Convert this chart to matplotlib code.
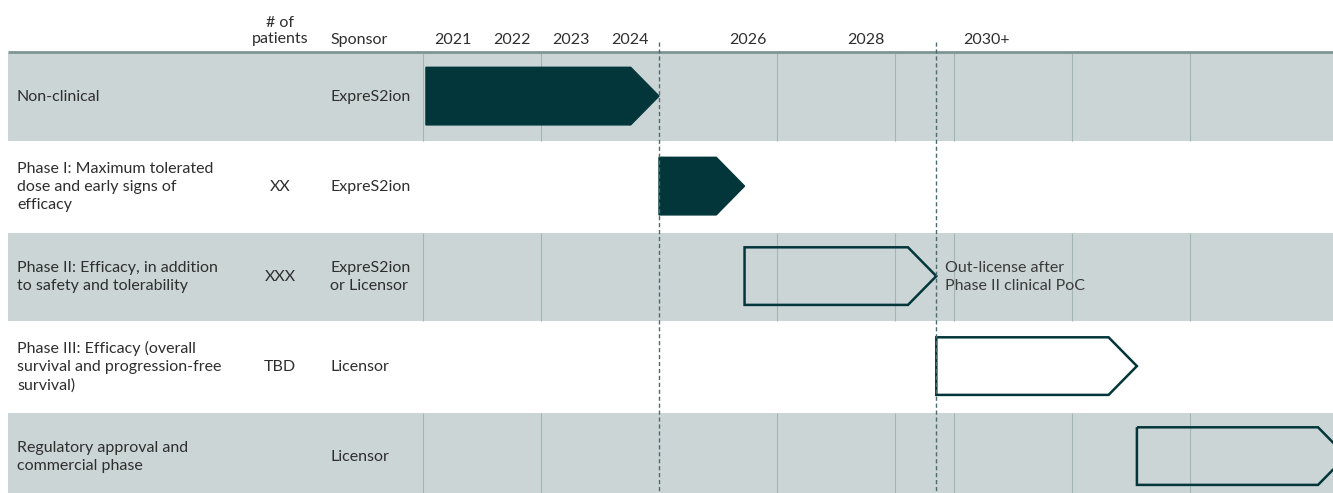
import matplotlib
matplotlib.use("Agg")
import numpy as np
from matplotlib import pyplot as plt
from matplotlib.patches import Polygon


# Fases do programa (uma linha por fase)
fases = [
    "Non-clinical",
    "Phase I: Maximum tolerated\ndose and early signs of\nefficacy",
    "Phase II: Efficacy, in addition\nto safety and tolerability",
    "Phase III: Efficacy (overall\nsurvival and progression-free\nsurvival)",
    "Regulatory approval and\ncommercial phase",
]
pacientes = ["", "XX", "XXX", "TBD", ""]
sponsors = ["ExpreS2ion", "ExpreS2ion", "ExpreS2ion\nor Licensor", "Licensor", "Licensor"]

# Inicio e fim (ponta da seta) de cada fase, em anos
inicio = [2021.05, 2025.0, 2026.45, 2029.7, 2033.1]
fim = [2025.0, 2026.45, 2029.7, 2033.1, 2036.65]
preenchido = [True, True, False, False, False]

# Eixo do tempo
anos_rotulo = ["2021", "2022", "2023", "2024", "2026", "2028", "2030+"]
anos_pos = [2021.5, 2022.5, 2023.5, 2024.5, 2026.5, 2028.5, 2030.55]
grade = [2021, 2023, 2027, 2029, 2030, 2032, 2034]
marcos = [2025.0, 2029.7]

nota = "Out-license after\nPhase II clinical PoC"

ESCURO = "#02363a"
CINZA = "#cbd5d6"
TEXTO = "#2e2e2e"
FS = 11.5


'''
    Seta com a ponta em x1.
'''
def seta(ax, x0, x1, y, cheio):
    ponta = 0.48
    topo, base = y + 0.17, y + 0.81
    meio = (topo + base) / 2
    pts = [(x0, topo), (x1 - ponta, topo), (x1, meio), (x1 - ponta, base), (x0, base)]
    if cheio:
        p = Polygon(pts, closed=True, facecolor=ESCURO, edgecolor=ESCURO, lw=1, zorder=4)
    else:
        p = Polygon(pts, closed=True, facecolor="none", edgecolor=ESCURO, lw=1.8, zorder=4)
    ax.add_patch(p)


'''
    MAIN
'''
def main():
    plt.rcParams["font.family"] = ["Lato", "DejaVu Sans"]
    fig = plt.figure(figsize=(13.33, 4.93), dpi=100)
    ax = fig.add_axes([0, 0, 1, 1])

    # 59 px por ano, 2021 comeca em x=423 px
    px = 59.0
    ax.set_xlim(2021 - 423 / px, 2021 + 910 / px)
    ax.set_ylim(441 / 90.0, -52 / 90.0)
    ax.axis("off")

    esq = 8 / 1333.0
    trans = ax.get_yaxis_transform()

    for i in range(len(fases)):
        if i % 2 == 0:
            ax.axhspan(i + 0.01, i + 0.99, xmin=esq, xmax=1, color=CINZA, lw=0, zorder=0)
            ax.vlines(grade, i + 0.01, i + 0.99, color="#a3b5b5", lw=0.8, zorder=1)
        ax.text(17 / 1333.0, i + 0.5, fases[i], transform=trans, ha="left", va="center",
                fontsize=FS, color=TEXTO, linespacing=1.38)
        ax.text(280 / 1333.0, i + 0.5, pacientes[i], transform=trans, ha="center", va="center",
                fontsize=FS, color=TEXTO)
        ax.text(330 / 1333.0, i + 0.5, sponsors[i], transform=trans, ha="left", va="center",
                fontsize=FS, color=TEXTO, linespacing=1.38)
        seta(ax, inicio[i], fim[i], i, preenchido[i])

    # Cabecalho
    ax.plot([ax.get_xlim()[0] + 8 / px, ax.get_xlim()[1]], [0, 0], color="#7d9694", lw=2, zorder=3,
            solid_capstyle="butt")
    for r, x in zip(anos_rotulo, anos_pos):
        ax.text(x, -0.13, r, ha="center", va="center", fontsize=FS, color=TEXTO)
    ax.text(280 / 1333.0, -0.07, "# of\npatients", transform=trans, ha="center", va="bottom",
            fontsize=FS, color=TEXTO, linespacing=1.15)
    ax.text(330 / 1333.0, -0.13, "Sponsor", transform=trans, ha="left", va="center",
            fontsize=FS, color=TEXTO)

    # Marcos tracejados
    ax.vlines(marcos, -0.11, 441 / 90.0, color="#4d6b6b", lw=1, linestyles=(0, (3, 2)), zorder=5)

    ax.text(2029.85, 2.5, nota, ha="left", va="center", fontsize=FS, color="#3a3a3a",
            linespacing=1.38, zorder=6)

    plt.savefig("out.png", dpi=100)


if __name__ == "__main__":
    main()
